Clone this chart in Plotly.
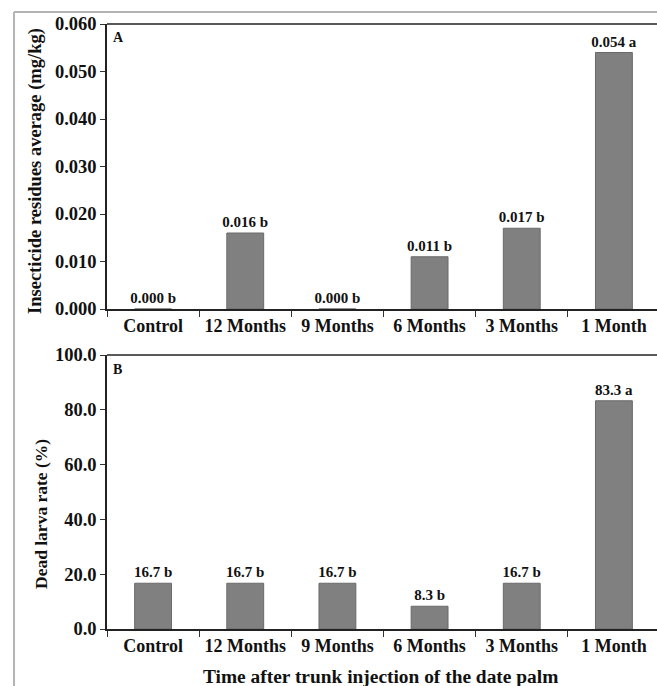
import plotly.graph_objects as go

categories = ["Control", "12 Months", "9 Months", "6 Months", "3 Months", "1 Month"]
residues = [0.000, 0.016, 0.000, 0.011, 0.017, 0.054]
residue_groups = ["b", "b", "b", "b", "b", "a"]
dead_larva = [16.7, 16.7, 16.7, 8.3, 16.7, 83.3]
larva_groups = ["b", "b", "b", "b", "b", "a"]

FONT = "Liberation Serif"
W, H = 660, 686
L, R, T, B = 107, 0, 24, 57
PH = H - T - B  # plot area height
PW = W - L - R

def fy(px):  # pixel y (from top) -> paper fraction
    return (H - B - px) / PH

def fx(px):
    return (px - L) / PW

def bold(size):
    return dict(family=FONT, size=size, color="#111", weight="bold")

fig = go.Figure()
bar_style = dict(marker=dict(color="#808080", line=dict(color="#6a6a6a", width=1)),
                 width=0.4, textposition="outside", cliponaxis=False,
                 constraintext="none", textfont=bold(15),
                 showlegend=False, hoverinfo="skip")

fig.add_trace(go.Bar(x=categories, y=residues,
                     text=[f"{v:.3f} {g}" for v, g in zip(residues, residue_groups)],
                     xaxis="x", yaxis="y", **bar_style))
fig.add_trace(go.Bar(x=categories, y=dead_larva,
                     text=[f"{v:.1f} {g}" for v, g in zip(dead_larva, larva_groups)],
                     xaxis="x2", yaxis="y2", **bar_style))

xcommon = dict(type="category", range=[-0.5, 5.5], tickson="boundaries",
               ticks="outside", ticklen=6, tickcolor="#333", showline=True,
               linecolor="#222", linewidth=1.5, mirror=False, showgrid=False,
               tickfont=bold(18), fixedrange=True)
ycommon = dict(ticks="outside", ticklen=5, tickcolor="#333", showline=True,
               linecolor="#222", linewidth=1.5, showgrid=False, zeroline=False,
               mirror=False, tickfont=bold(18.5), fixedrange=True)

panel_tops = [24, 355]

fig.update_layout(
    width=W, height=H,
    margin=dict(l=L, r=R, t=T, b=B),
    paper_bgcolor="white", plot_bgcolor="white",
    xaxis=dict(domain=[0, 1], anchor="y", **xcommon),
    yaxis=dict(domain=[fy(309), 1], anchor="x", range=[0, 0.060], dtick=0.01,
               tickformat=".3f", **ycommon),
    xaxis2=dict(domain=[0, 1], anchor="y2", **xcommon),
    yaxis2=dict(domain=[0, fy(355)], anchor="x2", range=[0, 100], dtick=20,
                tickformat=".1f", **ycommon),
    annotations=[
        dict(text="A", xref="paper", yref="paper", x=fx(111), y=fy(28),
             xanchor="left", yanchor="top", showarrow=False, font=bold(14)),
        dict(text="B", xref="paper", yref="paper", x=fx(111), y=fy(360),
             xanchor="left", yanchor="top", showarrow=False, font=bold(14)),
        dict(text="Insecticide residues average (mg/kg)", xref="paper", yref="paper",
             x=fx(35), y=fy(171), xanchor="center", yanchor="middle",
             textangle=-90, showarrow=False, font=bold(18.5)),
        dict(text="Dead larva rate (%)", xref="paper", yref="paper",
             x=fx(41), y=fy(514), xanchor="center", yanchor="middle",
             textangle=-90, showarrow=False, font=bold(17.5)),
        dict(text="Time after trunk injection of the date palm", xref="paper",
             yref="paper", x=fx(380), y=fy(676), xanchor="center", yanchor="middle",
             showarrow=False, font=bold(19.4)),
    ],
    shapes=[
        dict(type="line", xref="paper", yref="paper", x0=fx(14), x1=fx(14),
             y0=fy(12), y1=fy(690), line=dict(color="#b4b4b4", width=2)),
        dict(type="line", xref="paper", yref="paper", x0=fx(14), x1=1,
             y0=fy(12), y1=fy(12), line=dict(color="#b4b4b4", width=2)),
    ] + [
        dict(type="line", xref="paper", yref="paper", x0=0, x1=1,
             y0=fy(t), y1=fy(t), line=dict(color="#222", width=1.5))
        for t in panel_tops
    ],
)

fig.write_html("out.html", config={"displayModeBar": False},
               post_script="document.body.style.margin='0';document.body.style.overflow='hidden';")
